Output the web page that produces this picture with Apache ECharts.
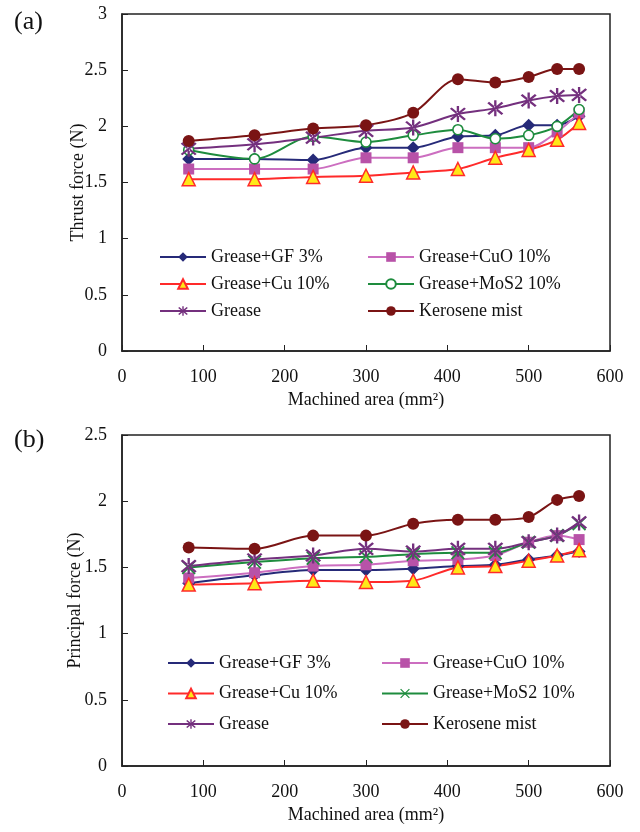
<!DOCTYPE html>
<html>
<head>
<meta charset="utf-8">
<script src="https://cdn.jsdelivr.net/npm/echarts@6/dist/echarts.min.js"></script>
<style>
  body { margin: 0; background: #fff; }
  .box { width: 640px; height: 416px; }
</style>
</head>
<body>
<div id="chartA" class="box"></div>
<div id="chartB" class="box"></div>
<script>
// machined area (mm2)
var area = [82, 163, 235, 300, 358, 413, 459, 500, 535, 562];

// (a) thrust force (N)
var thrustGF   = [1.71, 1.71, 1.70, 1.81, 1.81, 1.91, 1.92, 2.01, 2.01, 2.09];
var thrustCuO  = [1.62, 1.62, 1.62, 1.72, 1.72, 1.81, 1.81, 1.81, 1.95, 2.12];
var thrustCu   = [1.53, 1.53, 1.55, 1.56, 1.59, 1.62, 1.72, 1.79, 1.88, 2.03];
var thrustMoS2 = [1.79, 1.71, 1.91, 1.86, 1.92, 1.97, 1.89, 1.92, 2.00, 2.15];
var thrustGrease = [1.80, 1.84, 1.90, 1.96, 1.99, 2.11, 2.16, 2.23, 2.27, 2.28];
var thrustKero = [1.87, 1.92, 1.98, 2.01, 2.12, 2.42, 2.39, 2.44, 2.51, 2.51];

// (b) principal force (N)
var princGF   = [1.38, 1.44, 1.48, 1.48, 1.49, 1.51, 1.52, 1.56, 1.59, 1.62];
var princCuO  = [1.42, 1.46, 1.51, 1.52, 1.55, 1.56, 1.59, 1.69, 1.74, 1.71];
var princCu   = [1.37, 1.38, 1.40, 1.39, 1.40, 1.50, 1.51, 1.55, 1.59, 1.63];
var princMoS2 = [1.50, 1.54, 1.57, 1.58, 1.60, 1.61, 1.61, 1.69, 1.74, 1.83];
var princGrease = [1.51, 1.56, 1.59, 1.64, 1.62, 1.64, 1.64, 1.69, 1.74, 1.84];
var princKero = [1.65, 1.64, 1.74, 1.74, 1.83, 1.86, 1.86, 1.88, 2.01, 2.04];

var xTicks = [0, 100, 200, 300, 400, 500, 600];

var FONT = 'Liberation Serif';
var ASTER = 'path://M-1.2,-10L1.2,-10L1.2,10L-1.2,10Z M-8.2,-6.4L6.4,8.2L8.2,6.4L-6.4,-8.2Z M-8.2,6.4L6.4,-8.2L8.2,-6.4L-6.4,8.2Z';
var CROSS = 'path://M-8,-6.6L6.6,8L8,6.6L-6.6,-8Z M-8,6.6L6.6,-8L8,-6.6L-6.6,8Z';

function pairs(ys) {
    var out = [];
    for (var i = 0; i < area.length; i++) out.push([area[i], ys[i]]);
    return out;
}

function line(name, ys, lineColor, symbol, size, fill, border, bw) {
    return {
        name: name,
        type: 'line',
        smooth: 0.3,
        data: pairs(ys),
        symbol: symbol,
        symbolSize: size,
        showAllSymbol: true,
        lineStyle: { color: lineColor, width: 2 },
        itemStyle: { color: fill, borderColor: border, borderWidth: bw },
        emphasis: { disabled: true }
    };
}

function legendCol(left, top, gap, names) {
    return {
        orient: 'vertical',
        left: left,
        top: top,
        itemWidth: 46,
        itemHeight: 12,
        itemGap: gap,
        data: names,
        textStyle: { fontFamily: FONT, fontSize: 18, color: '#111' }
    };
}

function buildOption(cfg) {
    return {
        animation: false,
        textStyle: { fontFamily: FONT },
        graphic: [{
            type: 'text', left: 14, top: cfg.tagTop,
            style: { text: cfg.tag, font: '26px "Liberation Serif"', fill: '#111' }
        }],
        legend: [
            legendCol(cfg.legL1, cfg.legTop, cfg.legGap, ['Grease+GF 3%', 'Grease+Cu 10%', 'Grease']),
            legendCol(cfg.legL2, cfg.legTop, cfg.legGap, ['Grease+CuO 10%', 'Grease+MoS2 10%', 'Kerosene mist'])
        ],
        grid: { left: 122, right: 30, top: cfg.gridTop, height: cfg.gridH, show: true, borderColor: '#222', borderWidth: 1.5 },
        xAxis: {
            type: 'value', min: xTicks[0], max: xTicks[xTicks.length - 1], interval: 100,
            name: 'Machined area (mm²)', nameLocation: 'middle', nameGap: 39,
            nameTextStyle: { fontFamily: FONT, fontSize: 18, color: '#111' },
            axisLine: { lineStyle: { color: '#222', width: 1.5 } },
            axisTick: { inside: true, length: 6, lineStyle: { color: '#222' } },
            axisLabel: { margin: 17, fontFamily: FONT, fontSize: 18, color: '#111' },
            splitLine: { show: false }
        },
        yAxis: {
            type: 'value', min: 0, max: cfg.yMax, interval: 0.5,
            name: cfg.yName, nameLocation: 'middle', nameGap: cfg.yNameGap,
            nameMoveOverlap: false,
            nameTextStyle: { fontFamily: FONT, fontSize: 18, color: '#111' },
            axisLine: { show: true, lineStyle: { color: '#222', width: 1.5 } },
            axisTick: { show: true, inside: true, length: 6, lineStyle: { color: '#222' } },
            axisLabel: { margin: 15, fontFamily: FONT, fontSize: 18, color: '#111' },
            splitLine: { show: false }
        },
        series: cfg.series
    };
}

var chartA = echarts.init(document.getElementById('chartA'));
chartA.setOption(buildOption({
    tag: '(a)', tagTop: 9,
    gridTop: 14, gridH: 337, yMax: 3,
    yName: 'Thrust force (N)', yNameGap: 35,
    legL1: 154, legL2: 362, legTop: 243, legGap: 9,
    series: [
        line('Grease+GF 3%', thrustGF, '#262a78', 'diamond', 13, '#262a78', '#262a78', 0),
        line('Grease+CuO 10%', thrustCuO, '#cc6ec0', 'rect', 11, '#b852a8', '#b852a8', 0),
        line('Grease+Cu 10%', thrustCu, '#ff2a2a', 'triangle', 13, '#ffe817', '#ff2a2a', 1.5),
        line('Grease+MoS2 10%', thrustMoS2, '#1e8c3e', 'circle', 10, '#ffffff', '#1e8c3e', 1.6),
        line('Grease', thrustGrease, '#74307e', ASTER, 16, '#74307e', '#74307e', 0),
        line('Kerosene mist', thrustKero, '#7a1414', 'circle', 12, '#7a1414', '#7a1414', 0)
    ]
}));

var chartB = echarts.init(document.getElementById('chartB'));
chartB.setOption(buildOption({
    tag: '(b)', tagTop: 11,
    gridTop: 19, gridH: 331, yMax: 2.5,
    yName: 'Principal force (N)', yNameGap: 38,
    legL1: 162, legL2: 376, legTop: 233, legGap: 12.5,
    series: [
        line('Grease+GF 3%', princGF, '#262a78', 'diamond', 13, '#262a78', '#262a78', 0),
        line('Grease+CuO 10%', princCuO, '#cc6ec0', 'rect', 11, '#b852a8', '#b852a8', 0),
        line('Grease+Cu 10%', princCu, '#ff2a2a', 'triangle', 13, '#ffe817', '#ff2a2a', 1.5),
        line('Grease+MoS2 10%', princMoS2, '#1e8c3e', CROSS, 14, '#1e8c3e', '#1e8c3e', 0),
        line('Grease', princGrease, '#74307e', ASTER, 16, '#74307e', '#74307e', 0),
        line('Kerosene mist', princKero, '#7a1414', 'circle', 12, '#7a1414', '#7a1414', 0)
    ]
}));
</script>
</body>
</html>
